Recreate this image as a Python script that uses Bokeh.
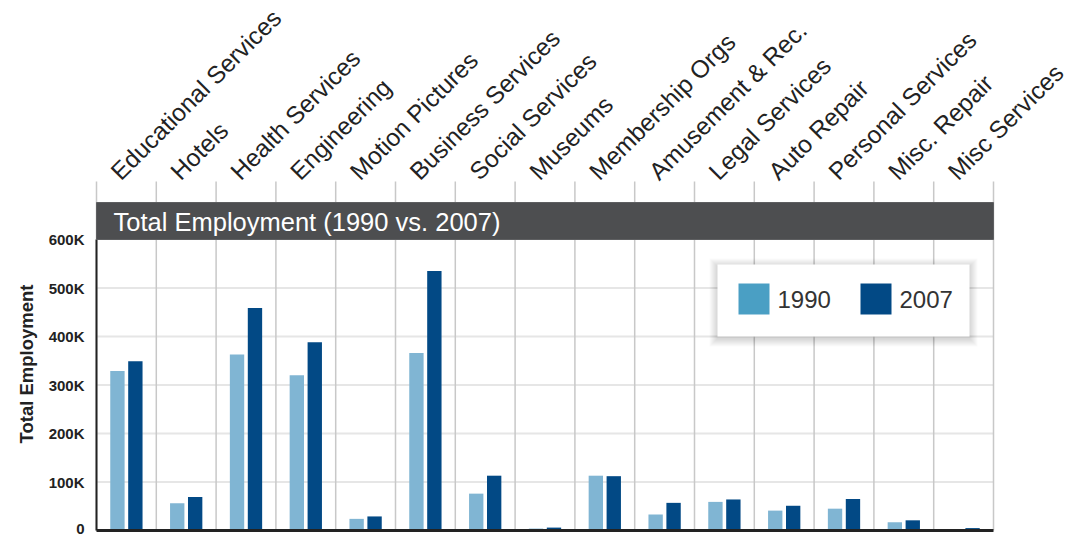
import math

from bokeh.plotting import figure
from bokeh.models import Range1d, FixedTicker, Title
from bokeh.core.properties import value
from bokeh.embed import file_html
from bokeh.resources import INLINE

# --- data -------------------------------------------------------------
categories = [
    "Educational Services", "Hotels", "Health Services", "Engineering",
    "Motion Pictures", "Business Services", "Social Services", "Museums",
    "Membership Orgs", "Amusement & Rec.", "Legal Services", "Auto Repair",
    "Personal Services", "Misc. Repair", "Misc Services",
]
emp_1990 = [329000, 56000, 363000, 320000, 24000, 366000, 76000, 4000,
            113000, 33000, 59000, 41000, 45000, 17000, 1000]
emp_2007 = [349000, 69000, 459000, 388000, 29000, 535000, 113000, 6000,
            112000, 57000, 64000, 51000, 65000, 21000, 5000]
y_ticks = [0, 100000, 200000, 300000, 400000, 500000, 600000]
y_tick_labels = ["0", "100K", "200K", "300K", "400K", "500K", "600K"]
series_names = ["1990", "2007"]

# --- styling ----------------------------------------------------------
FONT = "Liberation Sans"
C_1990 = "#80b5d3"
C_1990_KEY = "#4a9fc4"
C_2007 = "#024985"
TXT = "#222222"

W, H = 1076, 536
LEFT = 94               # canvas x of the frame's left edge
PX_PER_CAT = 59.8       # pixels per category slot
PX_PER_100K = 48.5      # pixels per 100K employees
ZERO_PX = 530           # canvas y of the zero line

n = len(categories)
x0_data = -2 / PX_PER_CAT
x_end = x0_data + (W - LEFT) / PX_PER_CAT
y_start = -(H - ZERO_PX) / PX_PER_100K * 100000
y_end = ZERO_PX / PX_PER_100K * 100000


def px_x(px):
    """canvas x (pixels) -> data x"""
    return x0_data + (px - LEFT) / PX_PER_CAT


def px_y(py):
    """canvas y (pixels) -> data y"""
    return (ZERO_PX - py) / PX_PER_100K * 100000


p = figure(
    width=W, height=H,
    x_range=Range1d(x0_data, x_end),
    y_range=Range1d(y_start, y_end),
    output_backend="svg", toolbar_location=None,
    min_border_left=LEFT, min_border_right=0,
    min_border_top=0, min_border_bottom=0,
    background_fill_color="white", border_fill_color="white",
    outline_line_color=None,
)
p.xaxis.visible = False
p.xgrid.visible = False
p.ygrid.visible = False

# y axis: tick labels only; rule is drawn separately
p.yaxis.ticker = FixedTicker(ticks=y_ticks)
p.yaxis.major_label_overrides = {t: s for t, s in zip(y_ticks, y_tick_labels)}
p.yaxis.axis_line_color = None
p.yaxis.major_tick_line_color = None
p.yaxis.minor_tick_line_color = None
p.yaxis.major_tick_out = 0
p.yaxis.major_tick_in = 0
p.yaxis.major_label_standoff = 10
p.yaxis.major_label_text_font = FONT
p.yaxis.major_label_text_font_style = "bold"
p.yaxis.major_label_text_font_size = "15px"
p.yaxis.major_label_text_color = TXT

# vertical axis title, placed alongside the value region (0 .. 600K)
p.add_layout(Title(
    text="Total Employment", align="left", offset=93, standoff=18,
    text_font=FONT, text_font_style="bold", text_font_size="18.5px",
    text_color=TXT,
), "left")

# horizontal grid lines (100K .. 500K)
grid_vals = y_ticks[1:-1]
p.segment(x0=[0] * len(grid_vals), x1=[n] * len(grid_vals),
          y0=grid_vals, y1=grid_vals, line_color="#e6e6e6", line_width=2)

# vertical category separators, reaching up to the rotated labels
seps = list(range(n + 1))
p.segment(x0=seps, x1=seps, y0=[0] * len(seps), y1=[px_y(181)] * len(seps),
          line_color="#c8c8c8", line_width=1.5)

# bars
centers = [i + 0.5 for i in range(n)]
p.vbar(x=[c - 0.15 for c in centers], top=emp_1990, bottom=0, width=0.24,
       fill_color=C_1990, line_color=None)
p.vbar(x=[c + 0.15 for c in centers], top=emp_2007, bottom=0, width=0.24,
       fill_color=C_2007, line_color=None)

# axis rules
p.segment(x0=[0], x1=[0], y0=[0], y1=[y_ticks[-1]], line_color=TXT, line_width=2)
p.segment(x0=[0], x1=[n], y0=[0], y1=[0], line_color=TXT, line_width=3)

# title band
p.quad(left=[0], right=[n], bottom=[y_ticks[-1]], top=[px_y(202)],
       fill_color="#4d4e50", line_color="#5e5f61", line_width=1)
p.text(x=[px_x(113)], y=[px_y(221)], text=["Total Employment (1990 vs. 2007)"],
       text_font=value(FONT), text_font_size="25.5px", text_color="white",
       text_align="left", text_baseline="middle")

# rotated category names above the chart
p.text(x=[c - 0.19 for c in centers], y=[px_y(175)] * n, text=categories,
       angle=math.pi / 4, text_font=value(FONT), text_font_size="24.5px",
       text_color=TXT, text_align="left", text_baseline="alphabetic")

# legend box with a soft shadow
lg_l, lg_r, lg_t, lg_b = 717, 969, 264, 336
for k in range(8, 0, -1):
    p.quad(left=[px_x(lg_l - k)], right=[px_x(lg_r + k)],
           top=[px_y(lg_t - k + 2)], bottom=[px_y(lg_b + k + 2)],
           fill_color="black", fill_alpha=0.02, line_color=None)
p.quad(left=[px_x(lg_l)], right=[px_x(lg_r)], top=[px_y(lg_t)],
       bottom=[px_y(lg_b)], fill_color="white", line_color=None)

key_left = [738, 860]
key_colors = [C_1990_KEY, C_2007]
p.quad(left=[px_x(k) for k in key_left], right=[px_x(k + 31) for k in key_left],
       top=[px_y(283)] * 2, bottom=[px_y(314)] * 2,
       fill_color=key_colors, line_color=None)
p.text(x=[px_x(k + 39) for k in key_left], y=[px_y(299)] * 2, text=series_names,
       text_font=value(FONT), text_font_size="24px", text_color="#333333",
       text_align="left", text_baseline="middle")

open("out.html", "w").write(file_html(p, INLINE))
